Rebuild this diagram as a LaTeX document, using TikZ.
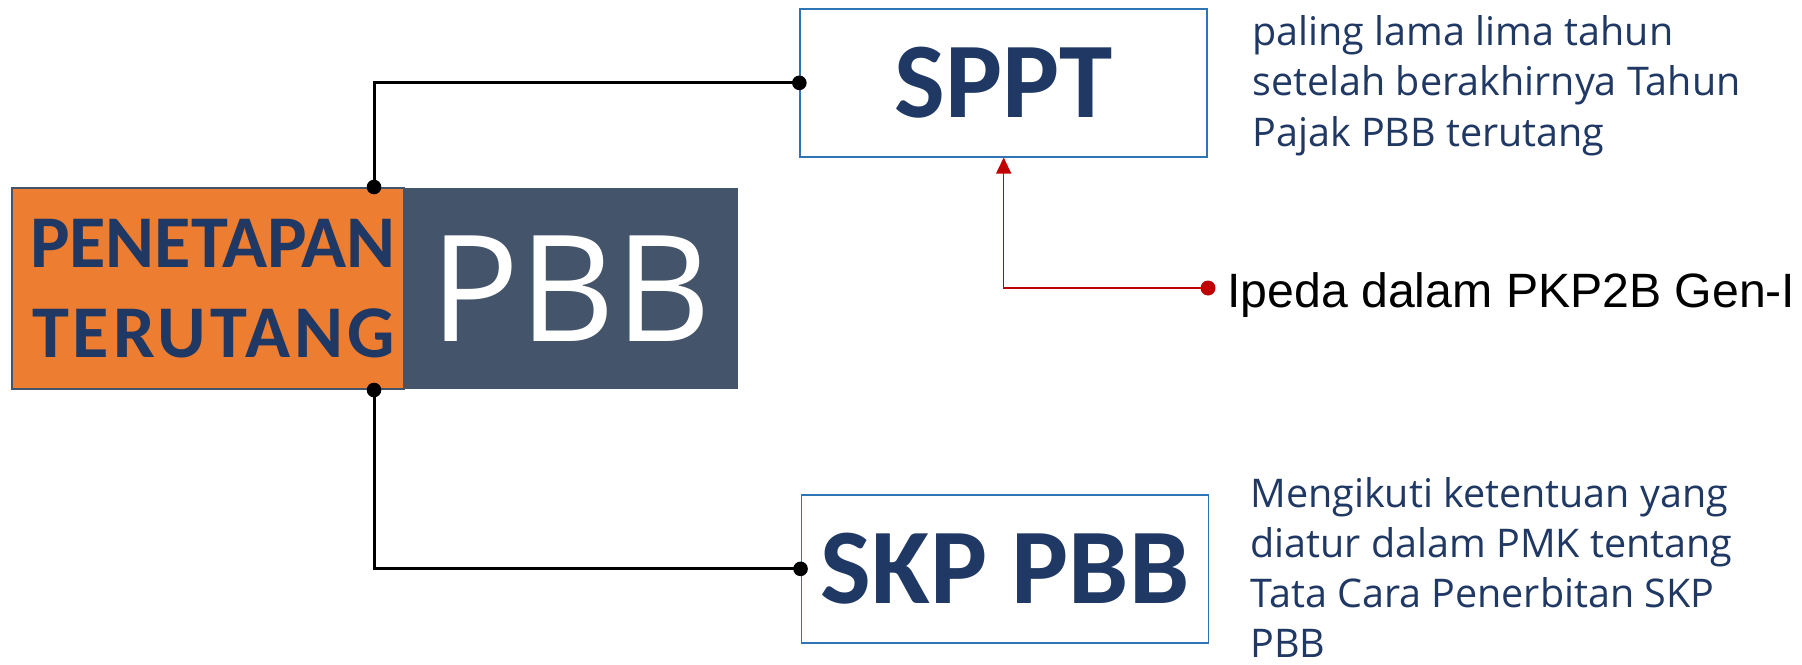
\documentclass[tikz,border=0pt]{standalone}
\usepackage{fontspec}
\setmainfont{Open Sans}
\newfontfamily\carlito{Carlito}
\newfontfamily\osans{Open Sans}
\newfontfamily\lsans{Liberation Sans}
\usetikzlibrary{arrows.meta}
\definecolor{orng}{HTML}{ED7D31}
\definecolor{slate}{HTML}{44546A}
\definecolor{navy}{HTML}{203864}
\definecolor{bluebd}{HTML}{2E75B6}
\definecolor{darkred}{HTML}{C00000}
\begin{document}
\begin{tikzpicture}[x=0.5pt,y=-0.5pt,
  titlebox/.style={draw=bluebd, line width=0.85pt, fill=white, minimum width=203.5pt,
    minimum height=73.85pt, inner sep=0pt, text=navy,
    font=\carlito\bfseries\fontsize{53.7pt}{60pt}\selectfont},
  note/.style={anchor=base west, inner sep=0pt, text=navy,
    font=\osans\fontsize{19.75pt}{25pt}\selectfont},
  conn/.style={line width=1.5pt, black},
  redconn/.style={line width=0.75pt, darkred, -{Triangle[width=7.5pt,length=8pt]}}]
\fill[white] (0,0) rectangle (1802,664);
\useasboundingbox (0,0) rectangle (1802,664);
% main block
\node[draw=slate, line width=1pt, fill=orng, minimum width=196pt, minimum height=100.5pt,
  inner sep=0pt, align=center, text=navy,
  font=\carlito\bfseries\fontsize{37.2pt}{45pt}\selectfont] (pen) at (208,288.5)
  {\hspace*{5pt}PENETAPAN\\\hspace*{5.5pt}{\addfontfeature{LetterSpace=5.5}TERUTANG}};
\node[fill=slate, minimum width=167pt, minimum height=100.5pt, inner sep=0pt, text=white,
  font=\osans\fontsize{74pt}{80pt}\selectfont] (pbb) at (571,288.5) {PBB};
% right boxes
\node[titlebox] (sppt) at (1003.7,82.85) {SPPT};
\node[titlebox] (skp) at (1004.9,568.85) {SKP PBB};
% connectors
\coordinate (ct) at ([xshift=83pt]pen.north);
\coordinate (cb) at ([xshift=83pt]pen.south);
\draw[conn] (ct) |- (sppt.west);
\draw[conn] (cb) |- (skp.west);
\fill[black] (ct) circle[radius=3.65pt];
\fill[black] (cb) circle[radius=3.65pt];
\fill[black] (sppt.west) circle[radius=3.65pt];
\fill[black] (skp.west) circle[radius=3.65pt];
% ipeda
\node[anchor=base west, inner sep=0pt, font=\lsans\fontsize{24.1pt}{28pt}\selectfont] (ipeda) at (1227,307) {Ipeda dalam PKP2B Gen-I};
\coordinate (rd) at (1208,288);
\draw[redconn] (rd) -| (sppt.south);
\fill[darkred] (rd) circle[radius=3.75pt];
% notes
\node[note] (r1) at (1252,45) {paling lama lima tahun};
\node[note] (r2) at (1252,95.5) {setelah berakhirnya Tahun};
\node[note] (r3) at (1252,146) {Pajak PBB terutang};
\node[note] (s1) at (1250,507) {Mengikuti ketentuan yang};
\node[note] (s2) at (1250,557) {diatur dalam PMK tentang};
\node[note] (s3) at (1250,607) {Tata Cara Penerbitan SKP};
\node[note] (s4) at (1250,657) {PBB};
\end{tikzpicture}
\end{document}
